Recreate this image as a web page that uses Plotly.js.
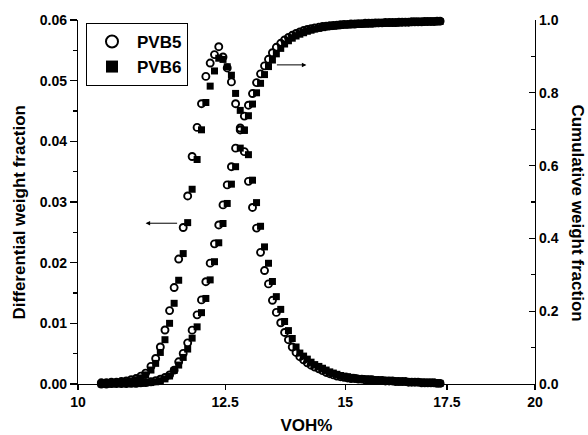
<!DOCTYPE html>
<html>
<head>
<meta charset="utf-8">
<script src="https://cdn.plot.ly/plotly-3.0.1.min.js"></script>
<style>html,body{margin:0;padding:0;background:#fff;}#chart{width:588px;height:435px;}</style>
</head>
<body>
<div id="chart"></div>
<script>
// VOH% sample positions (shared by both samples)
const voh = [
10.36,10.44,10.52,10.60,10.68,10.76,10.84,10.92,11.00,11.08,
11.17,11.25,11.33,11.41,11.49,11.57,11.65,11.73,11.81,11.89,
11.98,12.06,12.14,12.22,12.30,12.38,12.46,12.54,12.62,12.70,
12.79,12.87,12.95,13.03,13.11,13.19,13.27,13.35,13.43,13.51,
13.60,13.68,13.76,13.84,13.92,14.00,14.08,14.16,14.24,14.32,
14.41,14.49,14.57,14.65,14.73,14.81,14.89,14.97,15.05,15.13,
15.22,15.30,15.38,15.46,15.54,15.62,15.70,15.78,15.86,15.94,
16.03,16.11,16.19,16.27,16.35,16.43,16.51,16.59,16.67,16.75,
16.84,16.92,17.00,17.08,17.16,17.24,17.32];

// Differential weight fraction
const diffPVB5 = [
0.0002,0.0002,0.0003,0.0003,0.0004,0.0005,0.0007,0.0009,0.0013,0.0018,
0.0029,0.0042,0.0061,0.0089,0.0121,0.0159,0.0206,0.0258,0.0310,0.0375,
0.0423,0.0462,0.0507,0.0529,0.0543,0.0556,0.0539,0.0521,0.0498,0.0462,
0.0422,0.0383,0.0334,0.0291,0.0257,0.0217,0.0187,0.0165,0.0138,0.0118,
0.0101,0.0085,0.0073,0.0061,0.0052,0.0045,0.0040,0.0035,0.0031,0.0028,
0.0025,0.0022,0.0019,0.0017,0.0015,0.0013,0.0012,0.0011,0.0010,0.0009,
0.0009,0.0008,0.0008,0.0007,0.0007,0.0007,0.0006,0.0006,0.0006,0.0005,
0.0005,0.0005,0.0004,0.0004,0.0004,0.0004,0.0003,0.0003,0.0003,0.0003,
0.0002,0.0002,0.0002,0.0002,0.0002,0.0001,0.0001];

const diffPVB6 = [
0.0001,0.0001,0.0002,0.0002,0.0003,0.0004,0.0005,0.0007,0.0010,0.0015,
0.0023,0.0034,0.0052,0.0073,0.0100,0.0133,0.0171,0.0215,0.0266,0.0321,
0.0370,0.0419,0.0464,0.0491,0.0516,0.0537,0.0535,0.0523,0.0509,0.0479,
0.0451,0.0418,0.0378,0.0336,0.0299,0.0260,0.0226,0.0199,0.0169,0.0144,
0.0123,0.0103,0.0088,0.0075,0.0061,0.0051,0.0046,0.0041,0.0036,0.0032,
0.0029,0.0026,0.0023,0.0020,0.0018,0.0016,0.0014,0.0013,0.0012,0.0011,
0.0010,0.0009,0.0009,0.0008,0.0008,0.0007,0.0007,0.0006,0.0006,0.0006,
0.0005,0.0005,0.0005,0.0004,0.0004,0.0004,0.0004,0.0003,0.0003,0.0003,
0.0003,0.0002,0.0002,0.0002,0.0002,0.0002,0.0001];

// Cumulative weight fraction
const cumPVB5 = [
0.000,0.000,0.001,0.001,0.001,0.001,0.002,0.002,0.003,0.004,
0.006,0.009,0.013,0.018,0.025,0.038,0.061,0.084,0.113,0.148,
0.190,0.231,0.281,0.332,0.385,0.437,0.492,0.547,0.597,0.648,
0.698,0.736,0.766,0.798,0.828,0.852,0.874,0.892,0.910,0.925,
0.936,0.945,0.952,0.958,0.963,0.967,0.971,0.974,0.976,0.978,
0.980,0.982,0.983,0.984,0.985,0.986,0.987,0.988,0.988,0.989,
0.989,0.990,0.990,0.991,0.991,0.991,0.992,0.992,0.992,0.993,
0.993,0.993,0.993,0.994,0.994,0.994,0.994,0.995,0.995,0.995,
0.995,0.996,0.996,0.996,0.996,0.997,0.997];

const cumPVB6 = [
0.000,0.000,0.000,0.001,0.001,0.001,0.001,0.001,0.002,0.003,
0.004,0.006,0.009,0.014,0.022,0.037,0.052,0.073,0.096,0.126,
0.157,0.196,0.235,0.286,0.336,0.388,0.441,0.496,0.549,0.597,
0.648,0.698,0.737,0.769,0.800,0.826,0.850,0.872,0.890,0.907,
0.922,0.934,0.943,0.950,0.956,0.961,0.965,0.969,0.972,0.975,
0.977,0.979,0.981,0.982,0.983,0.984,0.985,0.986,0.987,0.987,
0.988,0.988,0.989,0.989,0.990,0.990,0.990,0.991,0.991,0.991,
0.992,0.992,0.992,0.992,0.993,0.993,0.993,0.993,0.994,0.994,
0.994,0.994,0.995,0.995,0.995,0.995,0.996];

const xTicks = [10, 12.5, 15, 17.5, 20];
const xTickText = ['10', '12.5', '15', '17.5', '20'];
const seriesNames = ['PVB5', 'PVB6'];

const FONT = '"Liberation Sans", Arial, Helvetica, sans-serif';
const circleMarker = {symbol: 'circle-open', size: 7, color: '#000', line: {width: 1.9, color: '#000'}};
const squareMarker = {symbol: 'square', size: 7, color: '#000', line: {width: 0}};

const traces = [
  {x: voh, y: diffPVB5, name: seriesNames[0], type: 'scatter', mode: 'markers', marker: circleMarker, yaxis: 'y', cliponaxis: false},
  {x: voh, y: diffPVB6, name: seriesNames[1], type: 'scatter', mode: 'markers', marker: squareMarker, yaxis: 'y', cliponaxis: false},
  {x: voh, y: cumPVB5, name: seriesNames[0], type: 'scatter', mode: 'markers', marker: circleMarker, yaxis: 'y2', showlegend: false, cliponaxis: false},
  {x: voh, y: cumPVB6, name: seriesNames[1], type: 'scatter', mode: 'markers', marker: squareMarker, yaxis: 'y2', showlegend: false, cliponaxis: false}
];

const tickFont = {family: FONT, size: 14, color: '#000', weight: 'bold'};
const titleFont = {family: FONT, size: 17, color: '#000', weight: 'bold'};

const layout = {
  width: 588, height: 435,
  margin: {l: 78, r: 53, t: 20, b: 51},
  paper_bgcolor: '#fff', plot_bgcolor: '#fff',
  showlegend: true,
  legend: {
    x: 0.0175, y: 0.992, xanchor: 'left', yanchor: 'top',
    bordercolor: '#000', borderwidth: 1, bgcolor: '#fff',
    font: {family: FONT, size: 17, color: '#000', weight: 'bold'},
    itemsizing: 'constant', itemwidth: 40, tracegroupgap: 0
  },
  xaxis: {
    type: 'log', range: [1, Math.log10(20)],
    tickvals: xTicks, ticktext: xTickText,
    showline: true, linecolor: '#000', linewidth: 1.2,
    ticks: 'outside', ticklen: 5, tickwidth: 1.2, tickcolor: '#000',
    showgrid: false, zeroline: false, mirror: false,
    tickfont: tickFont,
    title: {text: 'VOH%', font: titleFont, standoff: 10}
  },
  yaxis: {
    range: [0, 0.06], dtick: 0.01, tick0: 0, tickformat: '.2f',
    showline: true, linecolor: '#000', linewidth: 1.2,
    ticks: 'outside', ticklen: 7, tickwidth: 1.2, tickcolor: '#000',
    minor: {dtick: 0.005, ticks: 'outside', ticklen: 4, tickwidth: 1.2, tickcolor: '#000'},
    showgrid: false, zeroline: false,
    tickfont: tickFont
  },
  yaxis2: {
    range: [0, 1], dtick: 0.2, tick0: 0, tickformat: '.1f',
    overlaying: 'y', side: 'right', anchor: 'x',
    showline: true, linecolor: '#000', linewidth: 1.2,
    ticks: 'inside', ticklen: 6, tickwidth: 1.2, tickcolor: '#000',
    minor: {dtick: 0.1, ticks: 'inside', ticklen: 4, tickwidth: 1.2, tickcolor: '#000'},
    showgrid: false, zeroline: false,
    tickfont: tickFont
  },
  annotations: [
    {text: 'Differential weight fraction', xref: 'paper', yref: 'paper', x: -0.128, y: 0.47,
     xanchor: 'center', yanchor: 'middle', textangle: -90, showarrow: false, font: titleFont},
    {text: 'Cumulative weight fraction', xref: 'paper', yref: 'paper', x: 1.093, y: 0.47,
     xanchor: 'center', yanchor: 'middle', textangle: 90, showarrow: false, font: titleFont},
    {text: '', xref: 'x', yref: 'y', x: Math.log10(11.08), y: 0.0265, ax: 33, ay: 0,
     showarrow: true, arrowhead: 2, arrowsize: 0.9, arrowwidth: 1, arrowcolor: '#000'},
    {text: '', xref: 'x', yref: 'y', x: Math.log10(14.14), y: 0.0526, ax: -31, ay: 0,
     showarrow: true, arrowhead: 2, arrowsize: 0.9, arrowwidth: 1, arrowcolor: '#000'}
  ]
};

Plotly.newPlot('chart', traces, layout, {displayModeBar: false, staticPlot: true});
</script>
</body>
</html>
